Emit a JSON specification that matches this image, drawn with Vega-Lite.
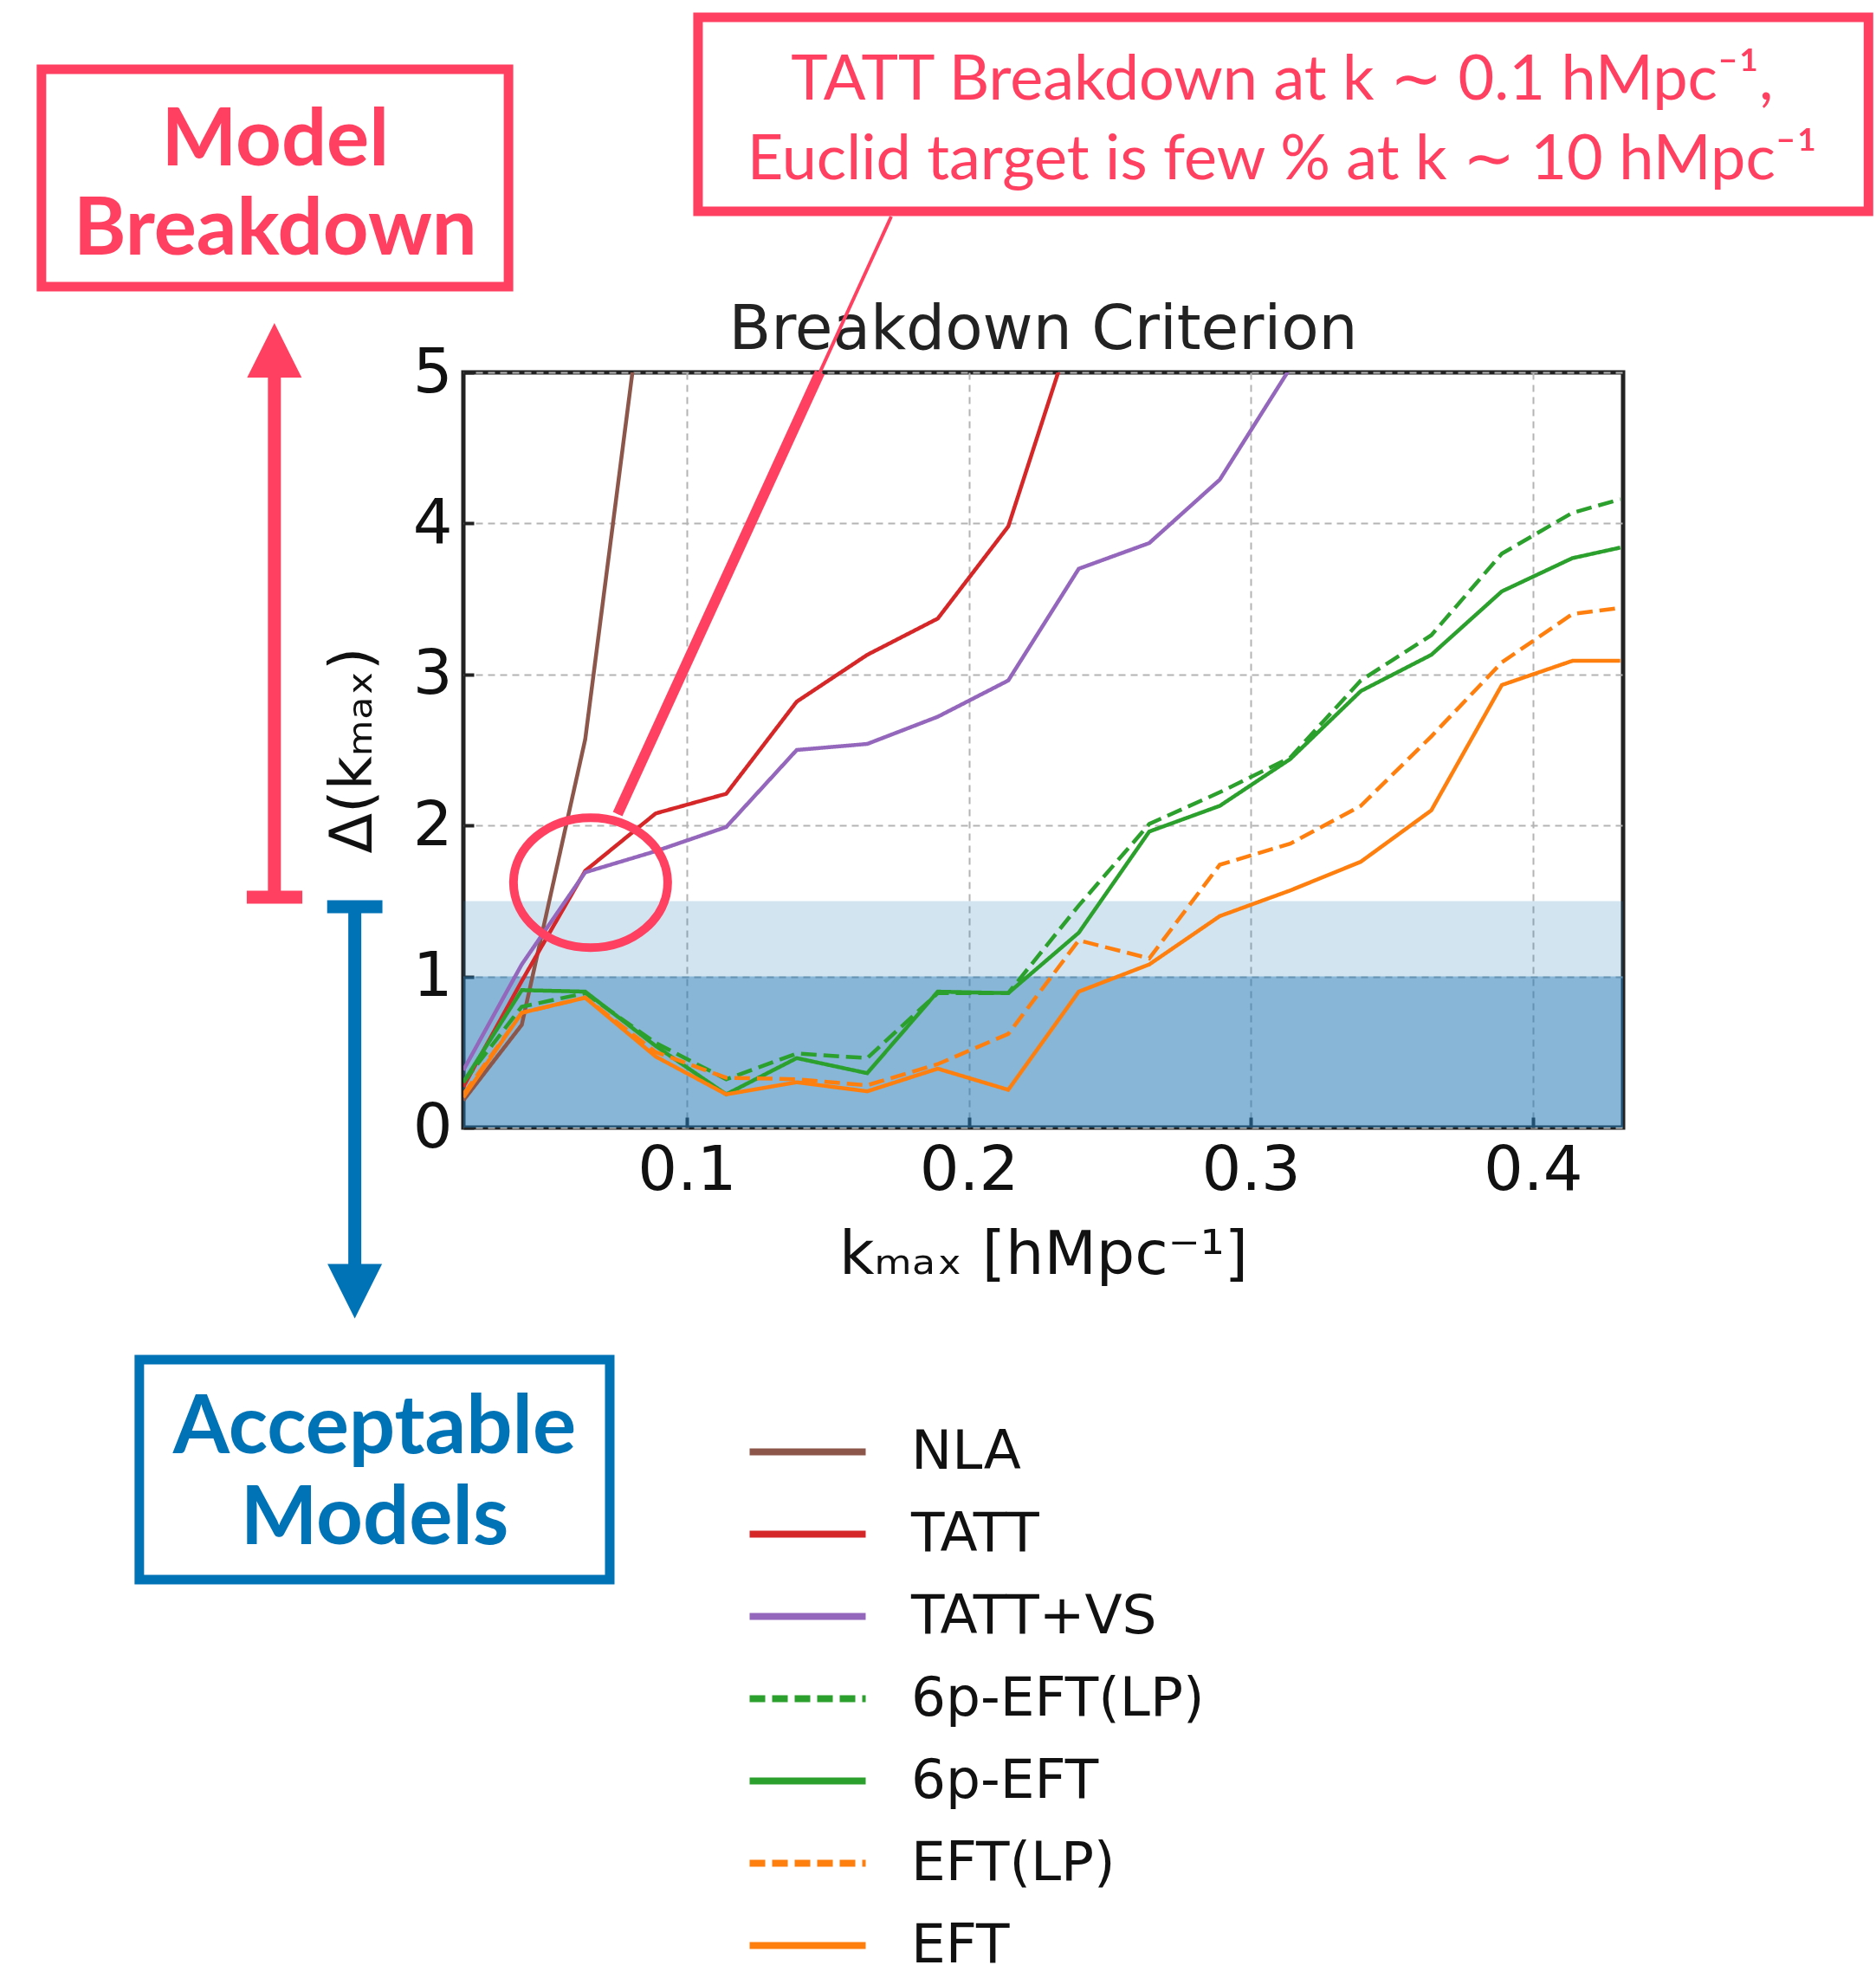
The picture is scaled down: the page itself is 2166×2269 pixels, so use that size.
{
  "$schema": "https://vega.github.io/schema/vega-lite/v6.json",
  "width": 1339,
  "height": 872,
  "autosize": {"type": "none"},
  "padding": {"left": 535, "top": 430, "right": 292, "bottom": 967},
  "background": "white",
  "config": {"view": {"stroke": "#222222", "strokeWidth": 5}, "font": "DejaVu Sans"},
  "layer": [
    {
      "data": {"values": [{"lo": 0, "hi": 1.5}]},
      "mark": {"type": "rect", "color": "#1f77b4", "opacity": 0.2},
      "encoding": {
        "y": {"field": "lo", "type": "quantitative", "scale": {"domain": [0, 5], "nice": false, "zero": false}},
        "y2": {"field": "hi"}
      }
    },
    {
      "data": {"values": [{"lo": 0, "hi": 1}]},
      "mark": {"type": "rect", "color": "#1f77b4", "opacity": 0.42},
      "encoding": {
        "y": {"field": "lo", "type": "quantitative", "scale": {"domain": [0, 5], "nice": false, "zero": false}},
        "y2": {"field": "hi"}
      }
    },
    {
      "data": {"values": [
        {"k": 0.0208, "d": 0.18, "model": "NLA"},
        {"k": 0.0415, "d": 0.68, "model": "NLA"},
        {"k": 0.064, "d": 2.57, "model": "NLA"},
        {"k": 0.089, "d": 6.2, "model": "NLA"},
        {"k": 0.0208, "d": 0.27, "model": "TATT"},
        {"k": 0.0415, "d": 0.97, "model": "TATT"},
        {"k": 0.064, "d": 1.7, "model": "TATT"},
        {"k": 0.089, "d": 2.08, "model": "TATT"},
        {"k": 0.114, "d": 2.21, "model": "TATT"},
        {"k": 0.139, "d": 2.82, "model": "TATT"},
        {"k": 0.164, "d": 3.13, "model": "TATT"},
        {"k": 0.189, "d": 3.37, "model": "TATT"},
        {"k": 0.214, "d": 3.98, "model": "TATT"},
        {"k": 0.239, "d": 5.42, "model": "TATT"},
        {"k": 0.0208, "d": 0.38, "model": "TATT+VS"},
        {"k": 0.0415, "d": 1.08, "model": "TATT+VS"},
        {"k": 0.064, "d": 1.69, "model": "TATT+VS"},
        {"k": 0.089, "d": 1.83, "model": "TATT+VS"},
        {"k": 0.114, "d": 1.99, "model": "TATT+VS"},
        {"k": 0.139, "d": 2.5, "model": "TATT+VS"},
        {"k": 0.164, "d": 2.54, "model": "TATT+VS"},
        {"k": 0.189, "d": 2.72, "model": "TATT+VS"},
        {"k": 0.214, "d": 2.96, "model": "TATT+VS"},
        {"k": 0.239, "d": 3.7, "model": "TATT+VS"},
        {"k": 0.264, "d": 3.87, "model": "TATT+VS"},
        {"k": 0.289, "d": 4.29, "model": "TATT+VS"},
        {"k": 0.314, "d": 5.03, "model": "TATT+VS"},
        {"k": 0.0208, "d": 0.3, "model": "6p-EFT(LP)"},
        {"k": 0.0415, "d": 0.8, "model": "6p-EFT(LP)"},
        {"k": 0.064, "d": 0.89, "model": "6p-EFT(LP)"},
        {"k": 0.089, "d": 0.56, "model": "6p-EFT(LP)"},
        {"k": 0.114, "d": 0.32, "model": "6p-EFT(LP)"},
        {"k": 0.139, "d": 0.49, "model": "6p-EFT(LP)"},
        {"k": 0.164, "d": 0.46, "model": "6p-EFT(LP)"},
        {"k": 0.189, "d": 0.89, "model": "6p-EFT(LP)"},
        {"k": 0.214, "d": 0.89, "model": "6p-EFT(LP)"},
        {"k": 0.239, "d": 1.47, "model": "6p-EFT(LP)"},
        {"k": 0.264, "d": 2.01, "model": "6p-EFT(LP)"},
        {"k": 0.289, "d": 2.22, "model": "6p-EFT(LP)"},
        {"k": 0.314, "d": 2.45, "model": "6p-EFT(LP)"},
        {"k": 0.339, "d": 2.96, "model": "6p-EFT(LP)"},
        {"k": 0.364, "d": 3.26, "model": "6p-EFT(LP)"},
        {"k": 0.389, "d": 3.8, "model": "6p-EFT(LP)"},
        {"k": 0.414, "d": 4.07, "model": "6p-EFT(LP)"},
        {"k": 0.431, "d": 4.16, "model": "6p-EFT(LP)"},
        {"k": 0.0208, "d": 0.3, "model": "6p-EFT"},
        {"k": 0.0415, "d": 0.91, "model": "6p-EFT"},
        {"k": 0.064, "d": 0.9, "model": "6p-EFT"},
        {"k": 0.089, "d": 0.54, "model": "6p-EFT"},
        {"k": 0.114, "d": 0.22, "model": "6p-EFT"},
        {"k": 0.139, "d": 0.46, "model": "6p-EFT"},
        {"k": 0.164, "d": 0.36, "model": "6p-EFT"},
        {"k": 0.189, "d": 0.9, "model": "6p-EFT"},
        {"k": 0.214, "d": 0.89, "model": "6p-EFT"},
        {"k": 0.239, "d": 1.29, "model": "6p-EFT"},
        {"k": 0.264, "d": 1.96, "model": "6p-EFT"},
        {"k": 0.289, "d": 2.13, "model": "6p-EFT"},
        {"k": 0.314, "d": 2.44, "model": "6p-EFT"},
        {"k": 0.339, "d": 2.89, "model": "6p-EFT"},
        {"k": 0.364, "d": 3.13, "model": "6p-EFT"},
        {"k": 0.389, "d": 3.55, "model": "6p-EFT"},
        {"k": 0.414, "d": 3.77, "model": "6p-EFT"},
        {"k": 0.431, "d": 3.84, "model": "6p-EFT"},
        {"k": 0.0208, "d": 0.22, "model": "EFT(LP)"},
        {"k": 0.0415, "d": 0.76, "model": "EFT(LP)"},
        {"k": 0.064, "d": 0.86, "model": "EFT(LP)"},
        {"k": 0.089, "d": 0.5, "model": "EFT(LP)"},
        {"k": 0.114, "d": 0.33, "model": "EFT(LP)"},
        {"k": 0.139, "d": 0.32, "model": "EFT(LP)"},
        {"k": 0.164, "d": 0.28, "model": "EFT(LP)"},
        {"k": 0.189, "d": 0.42, "model": "EFT(LP)"},
        {"k": 0.214, "d": 0.62, "model": "EFT(LP)"},
        {"k": 0.239, "d": 1.24, "model": "EFT(LP)"},
        {"k": 0.264, "d": 1.12, "model": "EFT(LP)"},
        {"k": 0.289, "d": 1.74, "model": "EFT(LP)"},
        {"k": 0.314, "d": 1.88, "model": "EFT(LP)"},
        {"k": 0.339, "d": 2.13, "model": "EFT(LP)"},
        {"k": 0.364, "d": 2.59, "model": "EFT(LP)"},
        {"k": 0.389, "d": 3.08, "model": "EFT(LP)"},
        {"k": 0.414, "d": 3.4, "model": "EFT(LP)"},
        {"k": 0.431, "d": 3.44, "model": "EFT(LP)"},
        {"k": 0.0208, "d": 0.2, "model": "EFT"},
        {"k": 0.0415, "d": 0.76, "model": "EFT"},
        {"k": 0.064, "d": 0.86, "model": "EFT"},
        {"k": 0.089, "d": 0.47, "model": "EFT"},
        {"k": 0.114, "d": 0.22, "model": "EFT"},
        {"k": 0.139, "d": 0.3, "model": "EFT"},
        {"k": 0.164, "d": 0.24, "model": "EFT"},
        {"k": 0.189, "d": 0.39, "model": "EFT"},
        {"k": 0.214, "d": 0.25, "model": "EFT"},
        {"k": 0.239, "d": 0.9, "model": "EFT"},
        {"k": 0.264, "d": 1.08, "model": "EFT"},
        {"k": 0.289, "d": 1.4, "model": "EFT"},
        {"k": 0.314, "d": 1.57, "model": "EFT"},
        {"k": 0.339, "d": 1.76, "model": "EFT"},
        {"k": 0.364, "d": 2.1, "model": "EFT"},
        {"k": 0.389, "d": 2.93, "model": "EFT"},
        {"k": 0.414, "d": 3.09, "model": "EFT"},
        {"k": 0.431, "d": 3.09, "model": "EFT"}
      ]},
      "mark": {"type": "line", "clip": true, "strokeWidth": 4.5},
      "encoding": {
        "x": {"field": "k", "type": "quantitative", "scale": {"domain": [0.0208, 0.432], "nice": false, "zero": false},
          "axis": {"values": [0.1, 0.2, 0.3, 0.4], "format": ".1f", "title": "kₘₐₓ [hMpc⁻¹]", "titleFontSize": 70, "titleFont": "DejaVu Sans", "titleFontWeight": "normal", "titleColor": "#111111", "titlePadding": 28, "labelFontSize": 72, "labelFont": "DejaVu Sans", "labelColor": "#111111", "labelPadding": 26, "domain": false, "tickSize": -12, "tickWidth": 4, "tickColor": "#222222", "grid": true, "gridDash": [8, 6], "gridColor": "#b4b4b4", "gridWidth": 2}},
        "y": {"field": "d", "type": "quantitative", "scale": {"domain": [0, 5], "nice": false, "zero": false},
          "axis": {"values": [0, 1, 2, 3, 4, 5], "format": "d", "title": "Δ(kₘₐₓ)", "titleFontSize": 68, "titleFont": "DejaVu Sans", "titleFontWeight": "normal", "titleColor": "#111111", "titlePadding": 34, "labelFontSize": 72, "labelFont": "DejaVu Sans", "labelColor": "#111111", "labelPadding": 25, "domain": false, "tickSize": -12, "tickWidth": 4, "tickColor": "#222222", "grid": true, "gridDash": [8, 6], "gridColor": "#b4b4b4", "gridWidth": 2}},
        "color": {"field": "model", "type": "nominal",
          "scale": {"domain": ["NLA", "TATT", "TATT+VS", "6p-EFT(LP)", "6p-EFT", "EFT(LP)", "EFT"], "range": ["#8c564b", "#d62728", "#9467bd", "#2ca02c", "#2ca02c", "#ff7f0e", "#ff7f0e"]},
          "legend": {"orient": "none", "legendX": 360, "legendY": 1209, "title": null, "labelFontSize": 63, "labelFont": "DejaVu Sans", "labelColor": "#111111", "labelLimit": 0, "symbolType": "M -2 0 L 2 0", "symbolSize": 4489, "symbolStrokeWidth": 8, "labelOffset": 82, "rowPadding": 25}},
        "strokeDash": {"field": "model", "type": "nominal",
          "scale": {"domain": ["NLA", "TATT", "TATT+VS", "6p-EFT(LP)", "6p-EFT", "EFT(LP)", "EFT"], "range": [[1, 0], [1, 0], [1, 0], [18, 8], [1, 0], [18, 8], [1, 0]]},
          "legend": {"orient": "none", "legendX": 360, "legendY": 1209, "title": null, "labelFontSize": 63, "labelFont": "DejaVu Sans", "labelColor": "#111111", "labelLimit": 0, "symbolType": "M -2 0 L 2 0", "symbolSize": 4489, "symbolStrokeWidth": 8, "labelOffset": 82, "rowPadding": 25}}
      }
    },
    {
      "data": {"values": [{"x": 0.2264, "y": 5.155, "label": "Breakdown Criterion"}]},
      "mark": {"type": "text", "clip": false, "font": "DejaVu Sans", "fontSize": 71, "color": "#222222", "align": "center", "baseline": "alphabetic"},
      "encoding": {
        "x": {"field": "x", "type": "quantitative", "scale": {"domain": [0.0208, 0.432], "nice": false, "zero": false}},
        "y": {"field": "y", "type": "quantitative", "scale": {"domain": [0, 5], "nice": false, "zero": false}},
        "text": {"field": "label"}
      }
    },
    {
      "data": {"values": [
        {"x1": -0.1288, "x2": 0.0368, "y1": 5.568, "y2": 7.007},
        {"x1": 0.104, "x2": 0.519, "y1": 6.066, "y2": 7.351}
      ]},
      "mark": {"type": "rect", "clip": false, "fill": "white", "stroke": "#ff4060", "strokeWidth": 11},
      "encoding": {
        "x": {"field": "x1", "type": "quantitative", "scale": {"domain": [0.0208, 0.432], "nice": false, "zero": false}},
        "x2": {"field": "x2"},
        "y": {"field": "y1", "type": "quantitative", "scale": {"domain": [0, 5], "nice": false, "zero": false}},
        "y2": {"field": "y2"}
      }
    },
    {
      "data": {"values": [
        {"x1": -0.0941, "x2": 0.0727, "y1": -2.993, "y2": -1.537}
      ]},
      "mark": {"type": "rect", "clip": false, "fill": "white", "stroke": "#0073b7", "strokeWidth": 11},
      "encoding": {
        "x": {"field": "x1", "type": "quantitative", "scale": {"domain": [0.0208, 0.432], "nice": false, "zero": false}},
        "x2": {"field": "x2"},
        "y": {"field": "y1", "type": "quantitative", "scale": {"domain": [0, 5], "nice": false, "zero": false}},
        "y2": {"field": "y2"}
      }
    },
    {
      "data": {"values": [
        {"x": -0.0459, "y": 6.53, "label": "Model"},
        {"x": -0.0459, "y": 5.94, "label": "Breakdown"}
      ]},
      "mark": {"type": "text", "clip": false, "font": "Lato", "fontWeight": "bold", "fontSize": 92, "color": "#ff4060", "align": "center", "baseline": "middle"},
      "encoding": {
        "x": {"field": "x", "type": "quantitative", "scale": {"domain": [0.0208, 0.432], "nice": false, "zero": false}},
        "y": {"field": "y", "type": "quantitative", "scale": {"domain": [0, 5], "nice": false, "zero": false}},
        "text": {"field": "label"}
      }
    },
    {
      "data": {"values": [
        {"x": -0.0107, "y": -1.995, "label": "Acceptable"},
        {"x": -0.0107, "y": -2.6, "label": "Models"}
      ]},
      "mark": {"type": "text", "clip": false, "font": "Lato", "fontWeight": "bold", "fontSize": 94, "color": "#0073b7", "align": "center", "baseline": "middle"},
      "encoding": {
        "x": {"field": "x", "type": "quantitative", "scale": {"domain": [0.0208, 0.432], "nice": false, "zero": false}},
        "y": {"field": "y", "type": "quantitative", "scale": {"domain": [0, 5], "nice": false, "zero": false}},
        "text": {"field": "label"}
      }
    },
    {
      "data": {"values": [
        {"x": 0.3111, "y": 6.93, "label": "TATT Breakdown at k ∼ 0.1 hMpc⁻¹,"},
        {"x": 0.3111, "y": 6.405, "label": "Euclid target is few % at k ∼ 10 hMpc⁻¹"}
      ]},
      "mark": {"type": "text", "clip": false, "font": "Lato", "fontSize": 72, "color": "#ff4060", "align": "center", "baseline": "middle"},
      "encoding": {
        "x": {"field": "x", "type": "quantitative", "scale": {"domain": [0.0208, 0.432], "nice": false, "zero": false}},
        "y": {"field": "y", "type": "quantitative", "scale": {"domain": [0, 5], "nice": false, "zero": false}},
        "text": {"field": "label"}
      }
    },
    {
      "data": {"values": [
        {"x1": -0.0462, "x2": -0.0462, "y1": 1.525, "y2": 5.0},
        {"x1": -0.056, "x2": -0.0363, "y1": 1.525, "y2": 1.525}
      ]},
      "mark": {"type": "rule", "clip": false, "color": "#ff4060", "strokeWidth": 15, "strokeCap": "butt"},
      "encoding": {
        "x": {"field": "x1", "type": "quantitative", "scale": {"domain": [0.0208, 0.432], "nice": false, "zero": false}},
        "x2": {"field": "x2"},
        "y": {"field": "y1", "type": "quantitative", "scale": {"domain": [0, 5], "nice": false, "zero": false}},
        "y2": {"field": "y2"}
      }
    },
    {
      "data": {"values": [
        {"x1": -0.0177, "x2": -0.0177, "y1": 1.462, "y2": -0.95},
        {"x1": -0.0275, "x2": -0.0079, "y1": 1.462, "y2": 1.462}
      ]},
      "mark": {"type": "rule", "clip": false, "color": "#0073b7", "strokeWidth": 15, "strokeCap": "butt"},
      "encoding": {
        "x": {"field": "x1", "type": "quantitative", "scale": {"domain": [0.0208, 0.432], "nice": false, "zero": false}},
        "x2": {"field": "x2"},
        "y": {"field": "y1", "type": "quantitative", "scale": {"domain": [0, 5], "nice": false, "zero": false}},
        "y2": {"field": "y2"}
      }
    },
    {
      "data": {"values": [{"x": -0.0462, "y": 5.146}]},
      "mark": {"type": "point", "clip": false, "shape": "M -1 1 L 1 1 L 0 -1 Z", "size": 3969, "filled": true, "color": "#ff4060", "opacity": 1},
      "encoding": {
        "x": {"field": "x", "type": "quantitative", "scale": {"domain": [0.0208, 0.432], "nice": false, "zero": false}},
        "y": {"field": "y", "type": "quantitative", "scale": {"domain": [0, 5], "nice": false, "zero": false}}
      }
    },
    {
      "data": {"values": [{"x": -0.0177, "y": -1.0837}]},
      "mark": {"type": "point", "clip": false, "shape": "M -1 -1 L 1 -1 L 0 1 Z", "size": 3969, "filled": true, "color": "#0073b7", "opacity": 1},
      "encoding": {
        "x": {"field": "x", "type": "quantitative", "scale": {"domain": [0.0208, 0.432], "nice": false, "zero": false}},
        "y": {"field": "y", "type": "quantitative", "scale": {"domain": [0, 5], "nice": false, "zero": false}}
      }
    },
    {
      "data": {"values": [{"x": 0.0659, "y": 1.6216}]},
      "mark": {"type": "point", "clip": false, "shape": "M -1 0 A 1 0.843 0 1 1 1 0 A 1 0.843 0 1 1 -1 0 Z", "size": 31684, "filled": false, "stroke": "#ff4060", "strokeWidth": 10, "opacity": 1},
      "encoding": {
        "x": {"field": "x", "type": "quantitative", "scale": {"domain": [0.0208, 0.432], "nice": false, "zero": false}},
        "y": {"field": "y", "type": "quantitative", "scale": {"domain": [0, 5], "nice": false, "zero": false}}
      }
    },
    {
      "data": {"values": [{"x1": 0.1725, "y1": 6.032, "x2": 0.0755, "y2": 2.076}]},
      "mark": {"type": "rule", "clip": false, "color": "#ff4060", "strokeWidth": 4},
      "encoding": {
        "x": {"field": "x1", "type": "quantitative", "scale": {"domain": [0.0208, 0.432], "nice": false, "zero": false}},
        "x2": {"field": "x2"},
        "y": {"field": "y1", "type": "quantitative", "scale": {"domain": [0, 5], "nice": false, "zero": false}},
        "y2": {"field": "y2"}
      }
    },
    {
      "data": {"values": [{"x1": 0.1472, "y1": 5.0, "x2": 0.0755, "y2": 2.076}]},
      "mark": {"type": "rule", "clip": false, "color": "#ff4060", "strokeWidth": 12},
      "encoding": {
        "x": {"field": "x1", "type": "quantitative", "scale": {"domain": [0.0208, 0.432], "nice": false, "zero": false}},
        "x2": {"field": "x2"},
        "y": {"field": "y1", "type": "quantitative", "scale": {"domain": [0, 5], "nice": false, "zero": false}},
        "y2": {"field": "y2"}
      }
    }
  ]
}
